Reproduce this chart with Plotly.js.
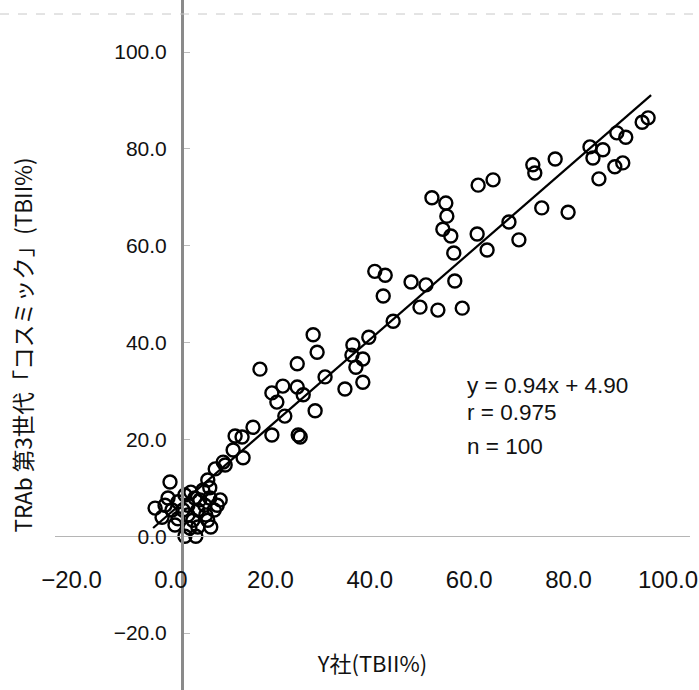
<!DOCTYPE html>
<html>
<head>
<meta charset="utf-8">
<script src="https://cdn.plot.ly/plotly-3.0.1.min.js"></script>
<style>html,body{margin:0;padding:0;background:#fff;}#chart{width:699px;height:690px;}</style>
</head>
<body>
<div id="chart"></div>
<script>
// Y社 (TBII%) values
const ySha = [
  96.0, 94.8, 89.7, 91.5, 84.3, 86.9, 84.9, 90.9, 89.3, 86.1,
  77.3, 72.8, 73.2, 74.6, 79.9, 68.0, 70.0, 61.8, 64.8, 52.5,
  55.3, 55.5, 54.7, 56.3, 61.6, 63.6, 56.9, 51.3, 57.1, 50.1,
  53.7, 58.6, 41.0, 43.1, 48.3, 42.7, 44.7, 39.8, 36.6, 36.4,
  38.6, 37.2, 38.6, 35.0, 28.6, 29.4, 17.9, 25.4, 22.5, 25.4,
  20.3, 21.3, 26.6, 31.0, 29.0, 22.9, 16.5, 12.9, 14.3, 20.3,
  25.6, 26.0, 12.5, 14.5, 10.9,
  -0.2, 4.0, -0.6, -3.2, -1.8, 1.4, 3.4, 1.4, 3.4, 5.4,
  7.8, 7.8, 9.3, 6.8, 5.4, 8.0, 2.8, 5.0, 8.9, 10.5,
  7.4, 5.8, 2.4, 4.4, 0.2, 7.0, 8.7, 4.8, 2.8, 6.4,
  -1.2, 0.8, 9.9, 7.4, 3.8
];
// TRAb 第3世代「コスミック」 (TBII%) values
const cosmic = [
  86.4, 85.5, 83.3, 82.4, 80.4, 79.8, 78.1, 77.1, 76.3, 73.8,
  77.9, 76.7, 75.0, 67.8, 66.9, 64.9, 61.2, 72.5, 73.6, 69.9,
  68.8, 66.1, 63.4, 62.0, 62.4, 59.1, 58.5, 51.9, 52.7, 47.3,
  46.7, 47.1, 54.7, 53.9, 52.5, 49.6, 44.4, 41.1, 39.5, 37.4,
  36.6, 34.9, 31.8, 30.4, 41.6, 38.0, 34.5, 35.6, 31.0, 30.8,
  29.6, 27.7, 29.2, 32.9, 25.9, 24.8, 22.5, 20.7, 20.5, 20.9,
  20.9, 20.5, 17.8, 16.2, 14.7,
  11.2, 9.1, 7.9, 5.8, 3.9, 7.1, 6.4, 3.6, 4.4, 5.4,
  10.0, 7.9, 6.4, 6.4, 1.9, 1.9, 0.0, 0.0, 13.9, 15.3,
  11.6, 7.5, 5.4, 3.3, 5.4, 4.4, 5.4, 7.9, 8.5, 9.5,
  6.4, 2.3, 7.5, 3.3, 1.7
];
// regression line ends
const fitX = [-3.6, 96.6];
const fitY = [1.7, 91.1];
const tickVals = [-20, 0, 20, 40, 60, 80, 100];
const tickText = ["−20.0", "0.0", "20.0", "40.0", "60.0", "80.0", "100.0"];
const statLines = ["y = 0.94x + 4.90", "r = 0.975", "n = 100"];

const W = 699, H = 690;
const traces = [
  {x: fitX, y: fitY, type: 'scatter', mode: 'lines',
   line: {color: '#000', width: 2.2}, hoverinfo: 'skip', showlegend: false},
  {x: ySha, y: cosmic, type: 'scatter', mode: 'markers',
   marker: {symbol: 'circle-open', size: 13, color: '#000', line: {width: 2.4}},
   showlegend: false}
];

const annY = [386, 413, 446];
const annotations = statLines.map((t, i) => ({
  xref: 'paper', yref: 'paper', x: 465 / W, y: 1 - annY[i] / H,
  xanchor: 'left', yanchor: 'middle', showarrow: false, text: t,
  font: {family: 'Liberation Sans, Arial, sans-serif', size: 22.5, color: '#111'}
}));

const layout = {
  width: W, height: H,
  margin: {l: 0, r: 0, t: 0, b: 0},
  paper_bgcolor: '#fff', plot_bgcolor: '#fff',
  showlegend: false,
  xaxis: {
    domain: [55 / W, 690 / W],
    range: [(55 - 171) / 4.97, (690 - 171) / 4.97],
    anchor: 'free', position: (H - 536.2) / H,
    showline: true, linecolor: '#b5b5b5', linewidth: 1,
    showgrid: false, zeroline: false,
    tickmode: 'array', tickvals: tickVals, ticktext: tickText,
    ticks: '', ticklabelstandoff: 22,
    tickfont: {family: 'Liberation Sans Narrow, Liberation Sans, Arial, sans-serif', size: 24, color: '#111'},
    title: {text: 'Y社(TBII%)', standoff: 64,
            font: {family: 'Noto Sans CJK JP, sans-serif', size: 22, color: '#111'}}
  },
  yaxis: {
    domain: [0, 1],
    range: [-(H - 536.2) / 4.842, 536.2 / 4.842],
    anchor: 'free', position: 182 / W,
    showline: true, linecolor: '#8a8a8a', linewidth: 2.5,
    showgrid: false, zeroline: false,
    tickmode: 'array', tickvals: tickVals, ticktext: tickText,
    ticks: 'inside', ticklen: 6, tickcolor: '#bbb', tickwidth: 1,
    ticklabelstandoff: 10,
    tickfont: {family: 'Liberation Sans, Arial, sans-serif', size: 21, color: '#111'},
    title: {text: 'TRAb 第3世代「コスミック」(TBII%)', standoff: 74,
            font: {family: 'Noto Sans CJK JP, sans-serif', size: 22.5, color: '#111'}}
  },
  shapes: [
    {type: 'line', xref: 'paper', yref: 'paper', x0: 0, x1: 1,
     y0: 1 - 14 / H, y1: 1 - 14 / H, line: {color: '#c8c8c8', width: 1, dash: 'dash'}}
  ],
  annotations: annotations
};

Plotly.newPlot('chart', traces, layout, {displayModeBar: false, staticPlot: true});
</script>
</body>
</html>
